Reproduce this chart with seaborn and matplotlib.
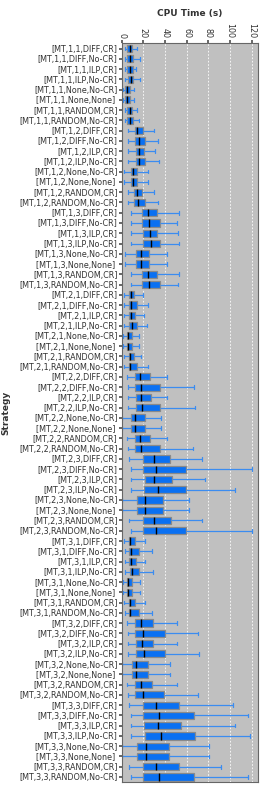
import numpy as np
import pandas as pd
import matplotlib
matplotlib.use("Agg")
import matplotlib.pyplot as plt
import seaborn as sns

# ---- data (five-number summaries) ----
configs = ["1,1", "1,2", "1,3", "2,1", "2,2", "2,3", "3,1", "3,2", "3,3"]
methods = ["DIFF,CR", "DIFF,No-CR", "ILP,CR", "ILP,No-CR",
           "None,No-CR", "None,None", "RANDOM,CR", "RANDOM,No-CR"]
strategies = [f"[MT,{c},{m}]" + (" " if m == "None,None" else "")
              for c in configs for m in methods]

whisker_low = [3.2, 3.2, 3.2, 3.2, 1.0, 1.0, 3.2, 3.2,
               5.9, 5.9, 5.9, 5.9, 2.2, 2.2, 5.9, 5.9,
               8.6, 8.6, 8.6, 8.6, 3.1, 3.1, 8.6, 8.6,
               2.2, 2.2, 2.2, 2.2, 1.0, 1.0, 2.2, 2.2,
               5.0, 5.9, 5.9, 5.9, 0.7, 0.7, 4.9, 5.9,
               6.8, 8.3, 8.3, 9.0, 0.7, 0.7, 6.8, 8.3,
               2.2, 3.1, 3.1, 3.1, 1.0, 1.0, 2.2, 3.1,
               4.7, 5.9, 5.9, 5.9, 0.7, 0.7, 4.7, 5.9,
               6.8, 8.3, 8.3, 9.0, 0.7, 0.7, 6.8, 8.3]
q1 = [4.7, 5.3, 5.3, 5.9, 2.8, 2.8, 5.3, 5.3,
      12.0, 12.0, 12.9, 12.9, 8.3, 8.3, 11.7, 11.7,
      18.4, 18.4, 19.6, 19.6, 13.2, 13.2, 18.4, 18.4,
      6.5, 6.5, 7.1, 7.1, 4.7, 4.7, 6.5, 6.5,
      12.3, 12.3, 13.5, 13.5, 9.0, 9.0, 12.3, 12.3,
      19.4, 19.6, 21.4, 20.9, 14.5, 14.5, 19.4, 19.6,
      6.5, 6.5, 7.1, 7.4, 4.7, 4.7, 6.5, 6.5,
      12.7, 12.7, 13.5, 13.5, 9.3, 9.3, 12.7, 12.7,
      19.6, 19.6, 20.9, 21.5, 14.5, 14.5, 19.6, 19.6]
median = [7.3, 8.0, 7.7, 8.3, 5.0, 5.0, 7.7, 7.4,
          14.5, 16.0, 15.7, 16.3, 10.8, 10.8, 14.2, 15.1,
          23.9, 25.4, 25.7, 26.6, 17.5, 17.5, 23.9, 25.4,
          8.3, 8.3, 8.9, 9.2, 6.2, 6.2, 8.0, 8.0,
          16.6, 17.8, 17.5, 18.9, 12.0, 12.0, 16.6, 17.8,
          29.7, 31.9, 30.0, 33.1, 21.5, 21.5, 29.7, 31.9,
          8.0, 8.3, 8.9, 9.2, 6.2, 6.2, 8.0, 8.0,
          17.8, 19.6, 18.7, 20.5, 12.9, 12.9, 17.8, 19.6,
          31.6, 34.7, 33.4, 36.5, 22.8, 22.8, 31.6, 34.4]
q3 = [9.3, 10.8, 10.2, 10.8, 7.4, 7.4, 9.9, 10.5,
      19.6, 21.5, 20.6, 21.5, 14.5, 14.5, 19.0, 21.2,
      32.8, 35.2, 32.8, 35.2, 24.9, 24.9, 32.8, 35.2,
      11.4, 13.8, 12.3, 13.8, 9.3, 9.3, 11.1, 13.8,
      26.1, 35.2, 26.6, 35.8, 21.2, 21.2, 26.1, 35.2,
      44.4, 59.7, 46.8, 59.7, 38.0, 38.0, 45.6, 59.7,
      12.6, 15.7, 13.5, 15.7, 9.6, 9.6, 12.6, 15.7,
      28.5, 39.8, 29.1, 40.1, 24.6, 24.6, 28.3, 39.4,
      53.0, 66.4, 54.5, 67.7, 43.2, 43.2, 53.3, 66.7]
whisker_high = [14.3, 16.6, 13.2, 17.2, 11.4, 11.4, 14.5, 16.3,
                30.0, 33.5, 30.7, 34.6, 23.9, 23.9, 29.8, 33.4,
                52.7, 51.2, 52.1, 53.3, 41.6, 41.6, 52.7, 51.8,
                19.6, 23.9, 20.8, 23.3, 15.7, 15.7, 18.1, 23.9,
                41.4, 66.4, 41.4, 67.3, 36.1, 36.1, 41.4, 65.8,
                74.4, 120.5, 76.5, 104.7, 62.2, 62.2, 74.4, 120.5,
                21.1, 28.3, 21.4, 28.6, 16.9, 16.9, 21.4, 28.3,
                50.6, 70.7, 51.2, 71.6, 44.8, 44.8, 50.6, 70.7,
                103.1, 116.6, 105.0, 118.4, 80.2, 80.2, 91.4, 116.3]

x_ticks = [0, 20, 40, 60, 80, 100, 120]

# long-form table: the five summary points of each strategy
rows = []
for s, a, b, c, d, e in zip(strategies, whisker_low, q1, median, q3, whisker_high):
    for v in (a, b, c, d, e):
        rows.append({"Strategy": s, "CPU Time (s)": v})
df = pd.DataFrame(rows)

sns.set_theme(style="ticks")
plt.rcParams["font.family"] = ["DejaVu Sans"]

fig = plt.figure(figsize=(2.64, 7.90), dpi=100)
ax = fig.add_axes([0.461, 0.010, 0.515, 0.935])
ax.set_facecolor("#c0c0c0")

sns.boxplot(data=df, x="CPU Time (s)", y="Strategy", order=strategies,
            orient="h", whis=(0, 100), width=0.7, saturation=1,
            color="#0a70f2", linewidth=0.9, showfliers=False, ax=ax,
            boxprops=dict(edgecolor="#8a8a8a"),
            whiskerprops=dict(color="#3b8cf0"),
            capprops=dict(color="#3b8cf0"),
            medianprops=dict(color="black", linewidth=1.0))

ax.set_xlim(0, 125.5)
ax.set_ylim(len(strategies) - 0.5, -0.5)
ax.set_xticks(x_ticks)
ax.xaxis.tick_top()
ax.xaxis.set_label_position("top")
ax.tick_params(axis="x", labelsize=5.8, length=2, pad=2, labelrotation=-90,
               color="#555555", labelcolor="#333333")
ax.tick_params(axis="y", labelsize=5.8, length=2, pad=1,
               color="#555555", labelcolor="#333333")
ax.grid(axis="x", color="white", linestyle=(0, (2, 2)), linewidth=0.6)
ax.set_axisbelow(True)
for sp in ax.spines.values():
    sp.set_color("#666666")
    sp.set_linewidth(0.8)

ax.set_xlabel("CPU Time (s)", fontsize=6.5, fontweight="bold",
              color="#333333", labelpad=5)
ax.set_ylabel("Strategy", fontsize=6.5, fontweight="bold", color="#333333")
ax.yaxis.set_label_coords(-0.82, 0.5)

fig.savefig("out.png", dpi=100)
